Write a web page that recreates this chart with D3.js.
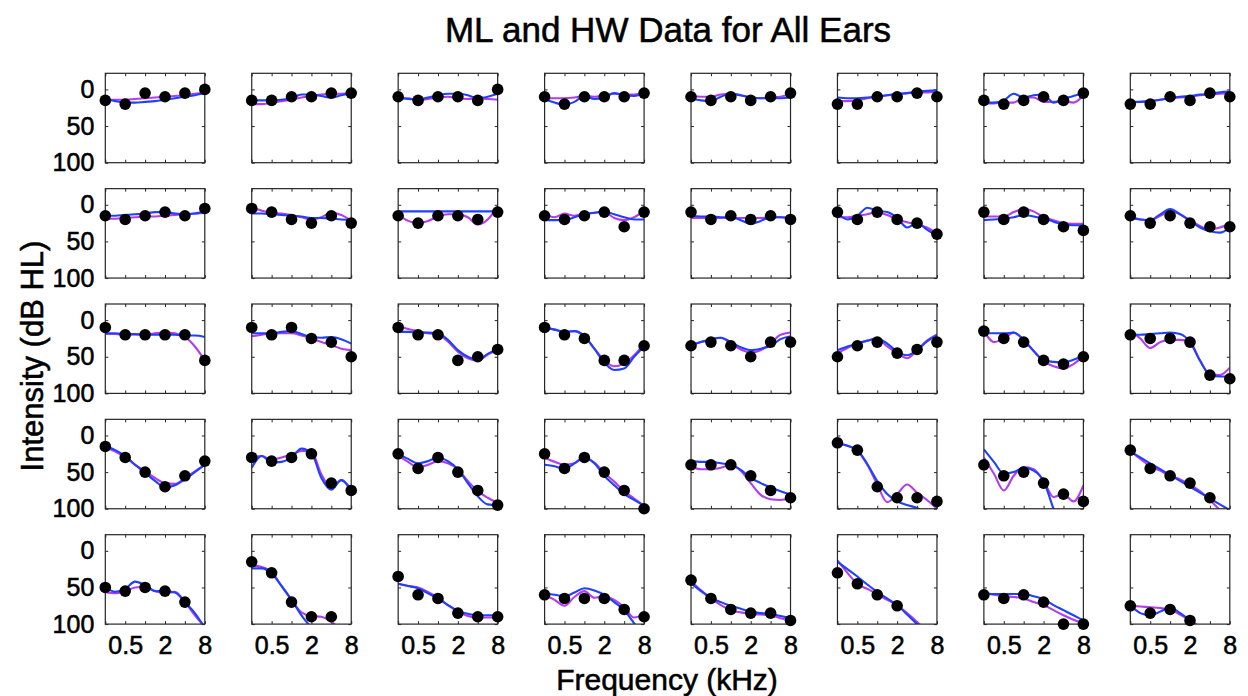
<!DOCTYPE html>
<html><head><meta charset="utf-8">
<script src="https://cdn.jsdelivr.net/npm/d3@7"></script>
<style>
body{margin:0;background:#fff;}
text{font-family:"Liberation Sans",Arial,Helvetica,sans-serif;fill:#000;stroke:#000;stroke-width:0.55px;}
</style>
</head><body>
<svg id="chart" width="1248" height="696"></svg>
<script>
// ---------------- data ----------------
const freqs = [0.25, 0.5, 1, 2, 4, 8];                       // audiogram frequencies (kHz)
const curveFreqs = [0.25, 0.354, 0.5, 0.707, 1, 1.414, 2, 2.828, 4, 5.657, 8];
const xTickLabels = {"0.5": "0.5", "2": "2", "8": "8"};
const yTickValues = [0, 50, 100];
const yDomain = [-22, 100];
const titleText = "ML and HW Data for All Ears";
const xLabelText = "Frequency (kHz)";
const yLabelText = "Intensity (dB HL)";

// measured thresholds (black dots), one row per ear, row-major 5 x 8
const dots = [
  [15,20,5,10,5,0],[15,15,10,10,5,5],[10,15,10,10,15,0],[10,20,10,10,10,5],
  [10,15,10,15,10,5],[20,20,10,10,5,10],[15,20,15,10,15,5],[20,20,10,15,5,10],

  [15,20,15,10,15,5],[5,10,20,25,15,25],[15,25,15,15,20,10],[15,20,15,10,30,10],
  [10,20,15,20,15,20],[10,20,10,20,25,40],[10,20,10,20,30,35],[15,25,15,25,30,30],

  [10,20,20,20,20,55],[10,20,10,25,30,50],[10,20,20,55,50,40],[10,20,25,55,55,35],
  [35,30,35,50,30,30],[50,35,30,45,40,30],[15,25,30,55,60,50],[20,25,25,30,75,80],

  [15,30,50,70,55,35],[30,35,30,25,65,75],[25,45,30,50,75,95],[25,45,30,50,75,100],
  [40,40,40,55,75,85],[10,20,70,85,85,90],[40,55,50,65,80,90],[20,45,55,65,85,null],

  [50,55,50,55,70,null],[15,30,70,90,90,null],[35,60,65,85,90,90],[60,65,65,65,80,90],
  [40,65,80,85,85,95],[30,45,60,75,null,null],[60,65,60,70,100,100],[75,85,80,95,null,null]
];

// blue curve (sampled at curveFreqs)
const blue = [
  [13,16,18,18,17,16,14,12,10,8,5],[15,15,15,14,12,7,7,9,11,8,5],[11,13,14,11,8,6,6,8,12,10,6],[13,18,21,17,9,13,11,5,8,9,5],
  [12,15,16,10,6,8,11,12,12,12,11],[11,12,12,11,10,8,6,5,3,2,1],[18,18,15,6,11,8,7,18,13,9,5],[17,17,16,14,12,10,9,7,6,4,3],

  [15,15,14,13,12,10,10,12,13,12,9],[12,12,13,14,15,16,18,18,19,20,21],[9,9,9,9,9,9,9,9,9,9,9],[21,21,21,17,13,11,9,13,17,20,20],
  [15,16,16,17,17,21,26,22,17,17,18],[11,20,15,4,8,10,18,31,25,34,43],[21,20,19,17,14,16,19,23,27,28,28],[18,20,21,13,6,13,22,31,36,38,31],

  [18,18,19,19,20,20,20,20,21,21,23],[18,18,18,16,15,19,23,24,23,26,32],[16,16,17,17,18,27,41,50,54,46,39],[10,13,16,15,22,39,58,68,66,50,36],
  [34,30,26,24,30,37,41,39,35,26,22],[41,36,32,28,25,32,43,48,41,29,20],[18,18,18,17,27,42,55,57,58,54,49],[20,20,19,18,17,19,30,55,75,77,77],

  [14,20,28,40,51,62,71,68,60,50,40],[44,28,37,36,30,18,24,58,74,61,76],[25,32,38,35,30,35,46,65,83,94,95],[40,42,46,38,30,38,55,68,80,88,96],
  [35,36,36,38,40,47,58,65,71,76,81],[11,14,20,39,62,80,90,95,99,108,115],[19,36,52,50,44,48,62,100,130,160,190],[22,30,38,46,54,62,70,78,86,94,102],

  [49,56,52,42,47,55,55,57,70,85,105],[24,24,31,48,67,88,106,130,150,170,190],[45,48,51,58,65,74,82,86,88,88,88],[59,60,62,57,51,54,60,70,81,99,120],
  [44,55,64,70,75,79,83,85,86,89,92],[15,25,35,46,56,65,74,87,100,113,126],[59,59,59,59,59,62,66,74,81,88,95],[74,85,88,83,77,85,95,110,130,150,170]
];

// magenta curve (sampled at curveFreqs)
const magenta = [
  [14,14,14,13,12,11,10,9,8,6,5],[20,20,18,16,14,11,9,7,6,6,5],[12,12,15,13,11,10,12,13,12,13,14],[12,12,12,11,9,10,8,6,7,7,5],
  [9,10,10,7,6,8,11,12,11,10,6],[16,16,15,12,10,8,7,5,4,4,3],[19,19,18,18,11,11,17,17,16,18,8],[18,17,16,14,12,11,10,8,7,6,5],

  [19,19,18,17,16,16,15,14,13,12,11],[4,8,11,12,14,17,20,17,11,14,22],[13,22,25,22,16,13,13,17,27,20,2],[13,17,12,15,12,11,10,18,21,17,8],
  [18,18,18,18,18,18,18,18,17,17,18],[17,17,15,13,10,14,20,24,27,31,40],[16,16,16,10,6,9,17,21,25,26,26],[15,20,21,15,9,13,21,29,34,31,26],

  [19,19,20,20,20,18,17,18,23,36,55],[22,20,18,18,18,21,25,30,34,39,41],[8,12,15,18,20,29,43,52,55,47,40],[10,13,16,15,22,39,55,63,59,48,32],
  [34,30,27,24,32,40,44,41,32,20,17],[45,38,32,28,25,36,45,52,41,28,20],[14,30,25,17,27,42,56,63,66,60,49],[14,25,38,30,27,27,30,55,74,75,65],

  [16,22,30,40,49,58,65,66,58,49,40],[30,28,33,30,26,21,22,53,71,61,74],[28,36,44,40,35,38,46,62,76,85,92],[30,36,40,38,30,37,51,63,76,86,96],
  [42,46,46,44,40,48,65,81,87,88,85],[11,14,21,40,67,91,80,67,78,88,100],[30,52,75,55,43,46,62,84,80,90,68],[21,32,42,48,55,60,67,76,88,102,117],

  [56,58,55,50,49,55,58,56,70,88,104],[20,22,29,48,67,84,89,90,97,108,120],[45,48,50,56,64,74,83,89,91,91,91],[60,67,75,63,55,64,62,67,77,91,86],
  [41,54,65,74,81,84,86,87,88,92,95],[13,30,45,52,59,67,74,85,97,110,125],[57,60,62,63,65,70,74,81,88,94,99],[75,76,77,78,80,87,95,104,120,140,160]
];

// ---------------- layout ----------------
const nRows = 5, nCols = 8;
const panelW = 99.5, panelH = 89.4;
const left0 = 105.3, colStep = 146.43;
const top0 = 73.3, rowStep = 115.35;
const blueColor = "#1f40ff", magentaColor = "#b43cf0", boxColor = "#262626";
const font = '"Liberation Sans", Arial, Helvetica, sans-serif';

const svg = d3.select("#chart");

const x = d3.scaleLog().base(2).domain([0.25, 8]).range([0, panelW]);
const y = d3.scaleLinear().domain(yDomain).range([0, panelH]);

const line = d3.line()
  .defined(d => d[1] != null)
  .x(d => x(d[0])).y(d => y(d[1]))
  .curve(d3.curveMonotoneX);

function styleAxis(g){
  g.attr("font-family", font).attr("font-size", 25);
  g.select(".domain").remove();
  g.selectAll(".tick line").attr("stroke", boxColor).attr("stroke-width", 1);
  g.selectAll(".tick text").attr("fill", "#000");
}

for (let r = 0; r < nRows; r++) {
  for (let c = 0; c < nCols; c++) {
    const i = r * nCols + c;
    const gx = left0 + c * colStep, gy = top0 + r * rowStep;
    const g = svg.append("g").attr("transform", `translate(${gx},${gy})`);
    const clipId = `clip${i}`;
    g.append("clipPath").attr("id", clipId)
      .append("rect").attr("width", panelW).attr("height", panelH);

    // axes with inward ticks
    const showX = r === nRows - 1, showY = c === 0;
    g.append("g").attr("transform", `translate(0,${panelH})`)
      .call(d3.axisBottom(x).tickValues(freqs).tickSizeInner(-3).tickSizeOuter(0).tickPadding(12)
        .tickFormat(d => showX ? (xTickLabels[String(d)] || "") : ""))
      .call(styleAxis);
    g.append("g")
      .call(d3.axisTop(x).tickValues(freqs).tickSizeInner(-3).tickSizeOuter(0).tickFormat(""))
      .call(styleAxis);
    g.append("g")
      .call(d3.axisLeft(y).tickValues(yTickValues).tickSizeInner(-3).tickSizeOuter(0).tickPadding(11)
        .tickFormat(d => showY ? d : ""))
      .call(styleAxis);
    g.append("g").attr("transform", `translate(${panelW},0)`)
      .call(d3.axisRight(y).tickValues(yTickValues).tickSizeInner(-3).tickSizeOuter(0).tickFormat(""))
      .call(styleAxis);

    // curves
    const lg = g.append("g").attr("clip-path", `url(#${clipId})`);
    lg.append("path").datum(curveFreqs.map((f, k) => [f, magenta[i][k]]))
      .attr("d", line).attr("fill", "none").attr("stroke", magentaColor).attr("stroke-width", 2.1);
    lg.append("path").datum(curveFreqs.map((f, k) => [f, blue[i][k]]))
      .attr("d", line).attr("fill", "none").attr("stroke", blueColor).attr("stroke-width", 2.1);

    // box
    g.append("rect").attr("width", panelW).attr("height", panelH)
      .attr("fill", "none").attr("stroke", boxColor).attr("stroke-width", 1.2);

    // dots
    g.selectAll("circle.dot").data(freqs.map((f, k) => [f, dots[i][k]]).filter(d => d[1] != null))
      .join("circle").attr("class", "dot")
      .attr("cx", d => x(d[0])).attr("cy", d => y(d[1])).attr("r", 5.8).attr("fill", "#000");
  }
}

// titles
svg.append("text").attr("x", 668).attr("y", 42).attr("text-anchor", "middle")
  .attr("font-size", 35).text(titleText);
svg.append("text").attr("x", 667).attr("y", 690).attr("text-anchor", "middle")
  .attr("font-size", 30).text(xLabelText);
svg.append("text").attr("transform", "translate(43,356) rotate(-90)").attr("text-anchor", "middle")
  .attr("font-size", 31).text(yLabelText);
</script>
</body></html>
